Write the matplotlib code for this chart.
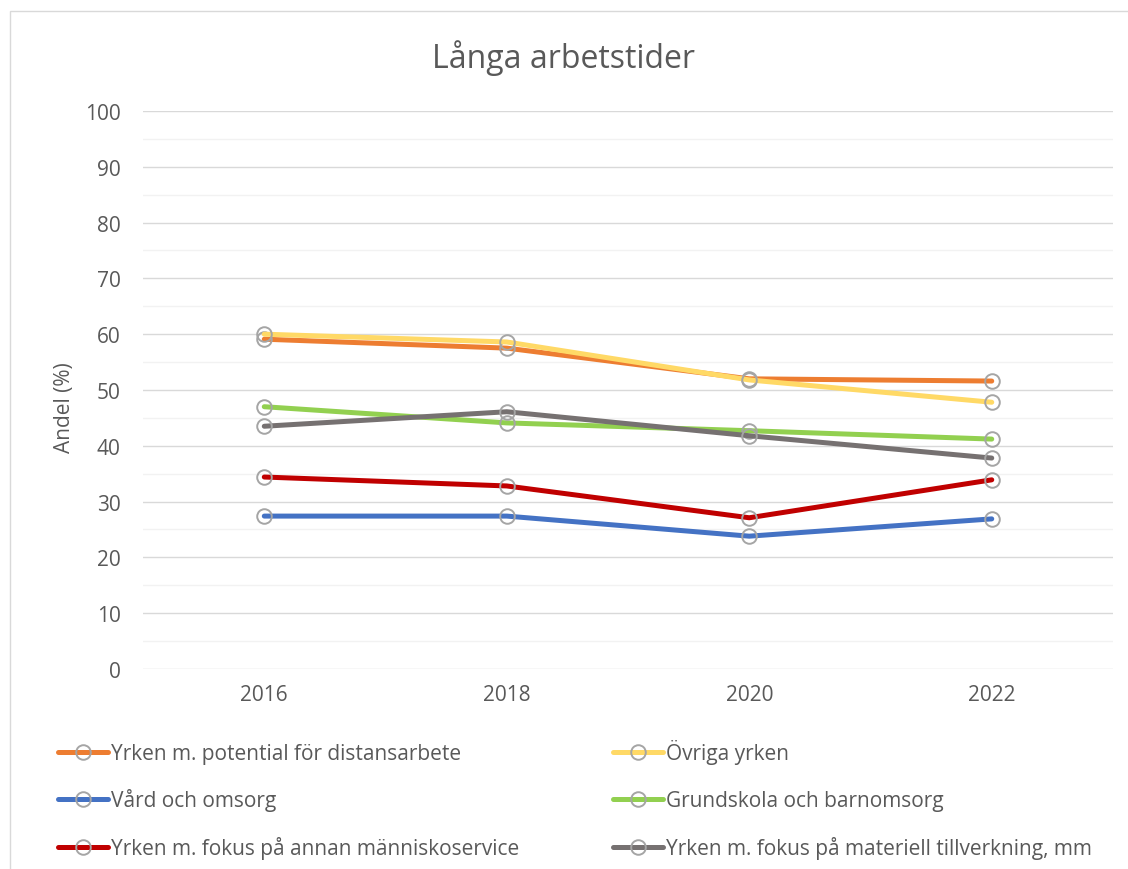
import numpy as np
import matplotlib
matplotlib.use('Agg')
import matplotlib.pyplot as plt
from matplotlib.lines import Line2D
from matplotlib.patches import Rectangle

plt.rcParams['font.family'] = ['Open Sans', 'DejaVu Sans']

# data
years = ['2016', '2018', '2020', '2022']
distans = [59.1, 57.5, 52.0, 51.6]
ovriga = [60.0, 58.6, 51.8, 47.8]
vard = [27.4, 27.4, 23.8, 26.9]
grundskola = [47.0, 44.1, 42.7, 41.2]
manniskoservice = [34.4, 32.8, 27.1, 33.9]
materiell = [43.5, 46.1, 41.8, 37.8]

labels = ['Yrken m. potential för distansarbete', 'Övriga yrken',
          'Vård och omsorg', 'Grundskola och barnomsorg',
          'Yrken m. fokus på annan människoservice',
          'Yrken m. fokus på materiell tillverkning, mm']
colors = ['#ED7D31', '#FFD966', '#4472C4', '#92D050', '#C00000', '#767171']
series = [distans, ovriga, vard, grundskola, manniskoservice, materiell]

txtc = '#595959'
fs = 15

fig = plt.figure(figsize=(11.28, 8.7), dpi=100)
ax = fig.add_axes([0.1268, 0.2299, 0.8599, 0.6414])

x = np.arange(len(years))
for i in range(len(series)):
    ax.plot(x, series[i], color=colors[i], lw=3.6, solid_capstyle='round', zorder=3,
            marker='o', markersize=10.5, markerfacecolor='none',
            markeredgecolor='#A5A5A5', markeredgewidth=1.4)

ax.set_xlim(-0.5, 3.5)
ax.set_ylim(0, 100)
ax.set_xticks(x)
ax.set_xticklabels(years)
ax.set_yticks(np.arange(0, 101, 10))
ax.set_yticks(np.arange(5, 100, 10), minor=True)
ax.tick_params(axis='both', which='both', length=0, labelsize=fs, colors=txtc)
ax.tick_params(axis='x', pad=11)
ax.tick_params(axis='y', pad=16)
ax.grid(axis='y', which='major', color='#D9D9D9', lw=1.0, zorder=0)
ax.grid(axis='y', which='minor', color='#F2F2F2', lw=1.0, zorder=0)
for s in ax.spines.values():
    s.set_visible(False)

ax.set_ylabel('Andel (%)', fontsize=fs, color=txtc)
ax.yaxis.set_label_coords(-0.07, 0.47)
fig.text(0.5, 0.933, 'Långa arbetstider', ha='center', va='center',
         fontsize=23, color=txtc)

# legend, laid out row by row like the original
col_x = [58, 613]
row_y = [753, 800, 848]
W, H = 1128.0, 870.0
for k, (lab, c) in enumerate(zip(labels, colors)):
    r, col = divmod(k, 2)
    x0 = col_x[col] / W
    x1 = (col_x[col] + 50) / W
    yy = 1 - row_y[r] / H
    fig.add_artist(Line2D([x0, x1], [yy, yy], transform=fig.transFigure,
                          color=c, lw=3.6, solid_capstyle='round'))
    fig.add_artist(Line2D([(x0 + x1) / 2], [yy], transform=fig.transFigure,
                          marker='o', markersize=10.5, markerfacecolor='none',
                          markeredgecolor='#A5A5A5', markeredgewidth=1.4))
    fig.text(x1 + 3 / W, yy - 7 / H, lab, ha='left', va='baseline',
             fontsize=fs, color=txtc)

fig.patches.append(Rectangle((0.009, -0.01), 1.0, 0.996, transform=fig.transFigure,
                             fill=False, edgecolor='#D9D9D9', lw=1.0))

fig.savefig('out.png', dpi=100)
